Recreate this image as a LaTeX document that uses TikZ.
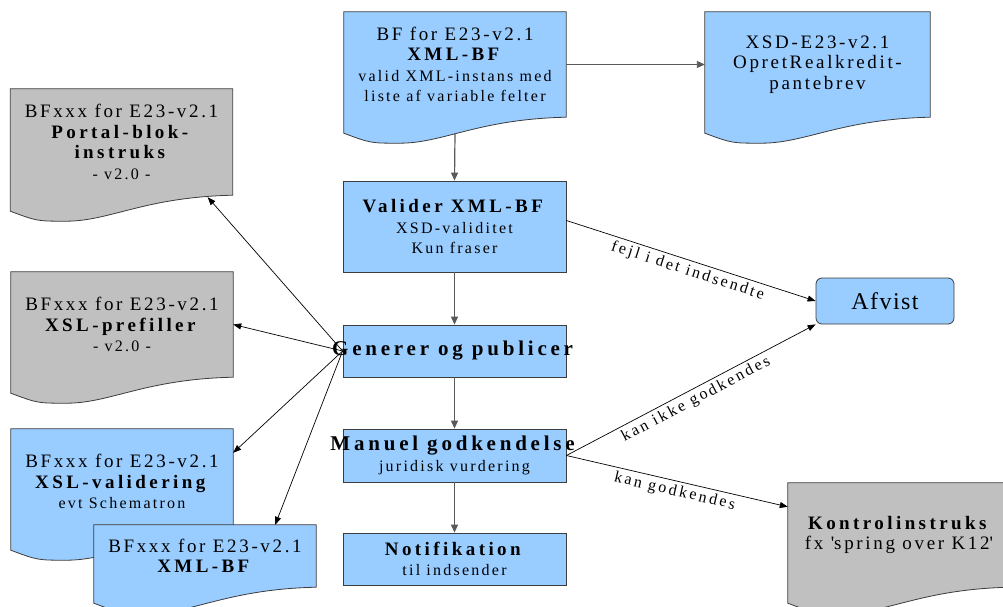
\documentclass[tikz,border=0pt]{standalone}
\usepackage{fontspec}
\setmainfont{Liberation Serif}[LetterSpace=14, BoldFeatures={LetterSpace=18}]
\usetikzlibrary{arrows.meta,calc,backgrounds}

\definecolor{boxblue}{RGB}{153,204,255}
\definecolor{docgray}{RGB}{192,192,192}
\definecolor{edgegray}{RGB}{60,60,60}
\newcommand{\sm}[1]{{\fontsize{16}{19}\selectfont #1}}

\tikzset{
	box/.style = {draw = edgegray, fill = boxblue, line width = 0.8pt, minimum width = 223pt,
		inner sep = 0pt, align = center, font = \fontsize{19}{20.5}\selectfont},
	doc/.style = {inner sep = 0pt, align = center, minimum width = 222pt, minimum height = 105pt,
		font = \fontsize{19}{20.5}\selectfont},
	flow/.style = {draw = black!65, line width = 1.2pt, -{Triangle[length = 8pt, width = 7pt]}},
	link/.style = {draw = black, line width = 0.7pt, -{Triangle[length = 8pt, width = 6pt]}},
	lbl/.style = {font = \fontsize{16}{18}\selectfont\addfontfeature{LetterSpace=16}, sloped, below}
}

\begin{document}
\begin{tikzpicture}[x = 1pt, y = -1pt]
	\useasboundingbox (0,0) rectangle (1003,607);

	% documents
	\node[doc] (xmlbf) at (455,64.5) {BF for E23-v2.1\\\textbf{XML-BF}\\\sm{valid XML-instans med}\\\sm{liste af variable felter}};
	\node[doc, minimum width = 225pt] (xsd) at (817.5,64.5) {XSD-E23-v2.1\\OpretRealkredit-\\pantebrev};
	\node[doc, minimum height = 106pt] (portal) at (121.5,142) {BFxxx for E23-v2.1\\\textbf{Portal-blok-}\\\textbf{instruks}\\\sm{- v2.0 -}};
	\node[doc] (prefiller) at (122,324.5) {BFxxx for E23-v2.1\\\textbf{XSL-prefiller}\\\sm{- v2.0 -}};
	\node[doc] (validering) at (122,481.5) {BFxxx for E23-v2.1\\\textbf{XSL-validering}\\\sm{evt Schematron}};
	\node[doc, minimum height = 62pt] (xmlbf2) at (205,556) {BFxxx for E23-v2.1\\\textbf{XML-BF}};
	\node[doc, minimum height = 104pt] (kontrol) at (899,535) {\textbf{Kontrolinstruks}\\fx \textquotesingle spring over K12\textquotesingle};

	% steps
	\node[box, minimum height = 91pt] (valider) at (454.5,226.5) {\textbf{Valider XML-BF}\\\sm{XSD-validitet}\\\sm{Kun fraser}};
	\node[box, minimum height = 52pt] (generer) at (454.5,351) {\makebox[0pt]{\fontsize{21}{22}\selectfont\textbf{Generer og publicer}}};
	\node[box, minimum height = 53pt] (manuel) at (454.5,455.5) {\makebox[0pt]{\fontsize{21}{22}\selectfont\textbf{Manuel godkendelse}}\\\sm{juridisk vurdering}};
	\node[box, minimum height = 52pt] (notif) at (454.5,559) {\textbf{Notifikation}\\\sm{til indsender}};
	\node[box, rounded corners = 6pt, minimum width = 138pt, minimum height = 46pt,
		font = \fontsize{24}{26}\selectfont\addfontfeature{LetterSpace=6}] (afvist) at (885,301) {Afvist};

	\begin{scope}[on background layer]
		\foreach \n/\c in {xmlbf/boxblue, xsd/boxblue, portal/docgray, prefiller/docgray,
			validering/boxblue, xmlbf2/boxblue, kontrol/docgray}
			\draw[draw = edgegray, line width = 0.8pt, fill = \c]
				(\n.north west) -- (\n.north east) -- (\n.south east)
				.. controls ($(\n.south west)!0.6!(\n.south east)+(0,2)$)
				and ($(\n.south west)!0.45!(\n.south east)+(0,26)$)
				.. ($(\n.south west)!0.25!(\n.south east)+(0,26)$)
				.. controls ($(\n.south west)!0.12!(\n.south east)+(0,26)$)
				.. ($(\n.south west)+(0,16)$) -- cycle;
	\end{scope}

	\draw[flow, line width = 0.9pt] (xmlbf.east) -- (xsd.west);
	\draw[flow] ($(xmlbf.south)+(0,16)$) -- (valider.north);
	\draw[flow] (valider.south) -- (generer.north);
	\draw[flow] (generer.south) -- (manuel.north);
	\draw[flow] (manuel.south) -- (notif.north);

	\draw[link] ($(valider.east)+(0,-6)$) -- node[lbl]{fejl i det indsendte} (afvist.west);
	\draw[link] (manuel.east) -- node[lbl]{kan ikke godkendes} (afvist.south west);
	\draw[link] (manuel.east) -- node[lbl]{kan godkendes} ($(kontrol.north west)+(0,24)$);

	\draw[link] (generer.west) -- ($(portal.south east)+(-25,2)$);
	\draw[link] (generer.west) -- (prefiller.east);
	\draw[link] (generer.west) -- ($(validering.north east)+(0,24)$);
	\draw[link] (generer.west) -- ($(xmlbf2.north east)+(-41,0)$);
\end{tikzpicture}
\end{document}
